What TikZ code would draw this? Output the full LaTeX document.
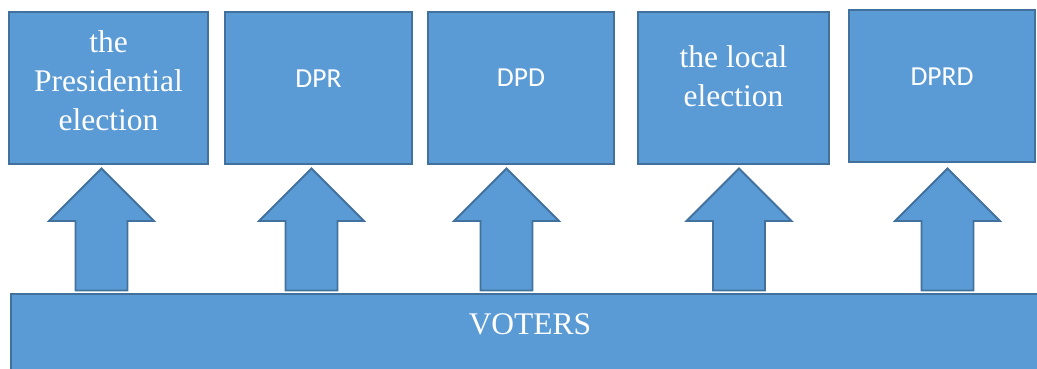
\documentclass[tikz,border=0pt]{standalone}
\usepackage{fontspec}
\setmainfont{Liberation Serif}
\newfontfamily\boxsans{Carlito}
\usepackage{xcolor}
\definecolor{officeblue}{HTML}{5B9BD5}
\definecolor{officeedge}{HTML}{41719C}

\begin{document}
\begin{tikzpicture}[x=1pt,y=-1pt,
  box/.style={draw=officeedge, fill=officeblue, line width=1.8pt},
  serifword/.style={white, align=center, inner sep=0pt, font=\fontsize{31.5}{39}\selectfont},
  sansword/.style={white, inner sep=0pt, font=\boxsans\fontsize{27.5}{32}\selectfont}]
\useasboundingbox (0,0) rectangle (1037,368);
\clip (0,0) rectangle (1037,368);
% the five boxes
\node [box, minimum width=199pt, minimum height=152pt] (pres) at (108.5,88) {};
\node [box, minimum width=187pt, minimum height=152pt] (dpr) at (318.5,88) {};
\node [box, minimum width=186pt, minimum height=152pt] (dpd) at (521,88) {};
\node [box, minimum width=191pt, minimum height=152pt] (local) at (733.5,88) {};
\node [box, minimum width=186pt, minimum height=152pt] (dprd) at (942,86) {};
\node [serifword] (presText) at (108.5,81) {the\\Presidential\\election};
\node [sansword] (dprText) at (318.5,79) {DPR};
\node [sansword] (dpdText) at (521,78) {DPD};
\node [serifword] (localText) at (733.5,76) {the local\\election};
\node [sansword] (dprdText) at (942,77) {DPRD};
% block arrows
\foreach \cx in {101.5,311.5,506.5,739,947.5}
  \draw [box, line join=miter] (\cx,168.5) -- ++(52.5,52.5) -- ++(-26.5,0) -- ++(0,69.5)
    -- ++(-52,0) -- ++(0,-69.5) -- ++(-26.5,0) -- cycle;
% voters bar
\draw [box] (11,294) rectangle (1060,390);
\node [serifword] (voters) at (530,324) {VOTERS};
\end{tikzpicture}
\end{document}
